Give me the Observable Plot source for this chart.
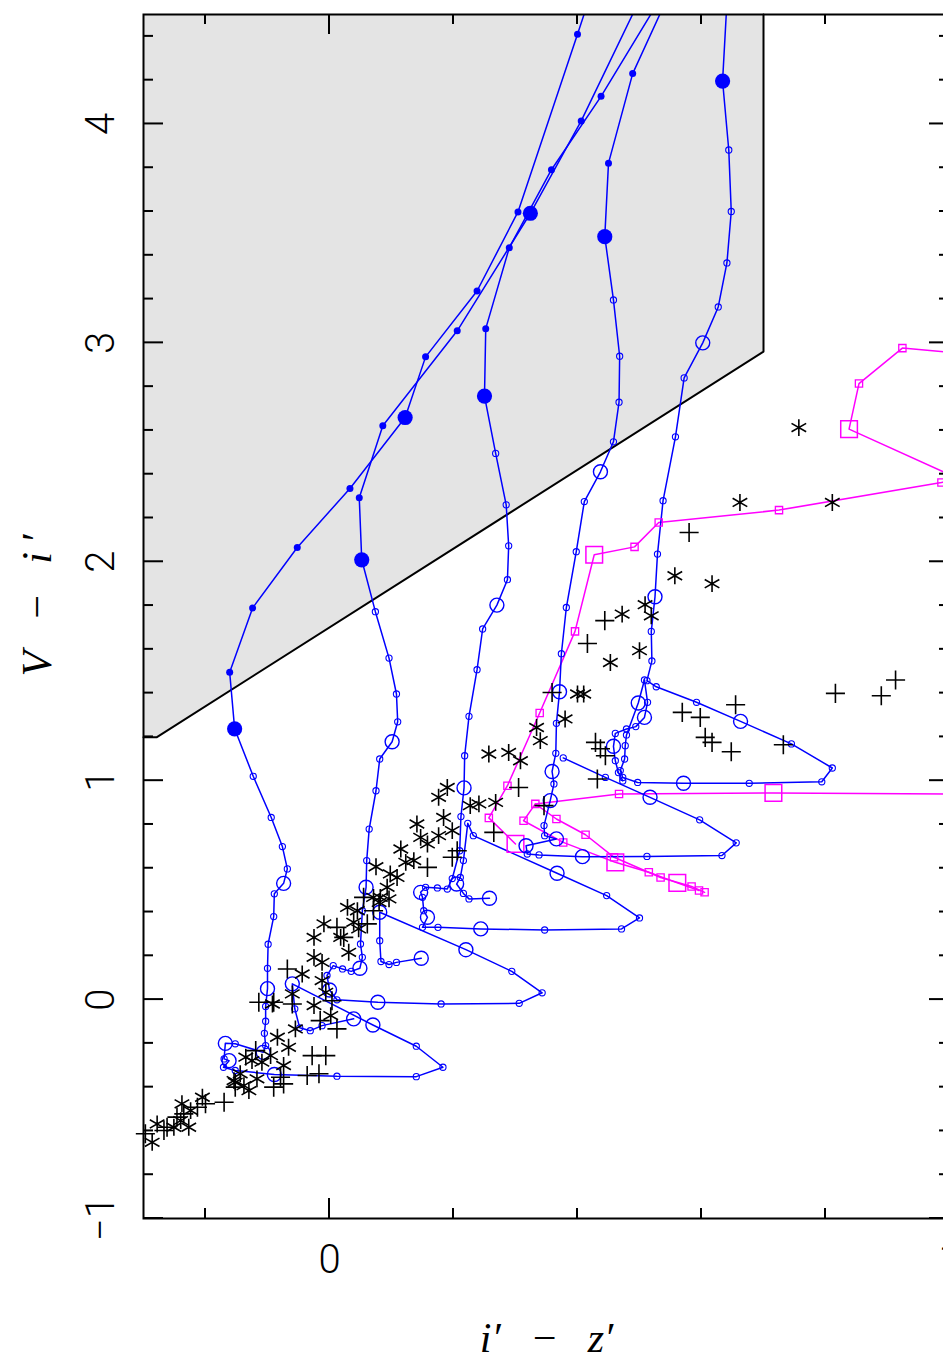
<!DOCTYPE html>
<html>
<head>
<meta charset="utf-8">
<script src="https://cdn.jsdelivr.net/npm/d3@7"></script>
<script src="https://cdn.jsdelivr.net/npm/@observablehq/plot@0.6"></script>
<style>
  html, body { margin: 0; padding: 0; background: #fff; overflow: hidden; width: 943px; height: 1362px; }
  #chart { position: absolute; left: 0; top: 0; width: 969px; height: 1362px; }
  #chart svg { max-width: none !important; width: 969px !important; height: 1362px !important; display: block; }
</style>
</head>
<body>
<div id="chart"></div>
<script>
// Colour–colour diagram: V − i′ against i′ − z′.
// Each track is a list of [i′−z′, V−i′, marker]; marker codes:
// "f" small filled dot, "F" large filled dot, "o" small open circle,
// "O" large open circle, "s" small square, "S" large square, "-" no marker.

const trackA = [
  [0.423,4.607,"-"],[0.400,4.410,"f"],[0.304,3.598,"f"],[0.238,3.237,"f"],[0.155,2.936,"f"],
  [0.122,2.659,"F"],[0.033,2.335,"f"],[-0.052,2.065,"f"],[-0.124,1.789,"f"],[-0.161,1.495,"f"],
  [-0.153,1.237,"F"],[-0.123,1.020,"o"],[-0.094,0.832,"o"],[-0.076,0.699,"o"],[-0.068,0.597,"o"],
  [-0.074,0.531,"O"],[-0.089,0.483,"o"],[-0.090,0.379,"o"],[-0.099,0.253,"o"],[-0.100,0.143,"o"],
  [-0.100,0.050,"O"],[-0.103,-0.031,"o"],[-0.103,-0.099,"o"],[-0.105,-0.154,"o"],[-0.103,-0.210,"o"],
  [-0.107,-0.241,"O"],[-0.152,-0.202,"o"],[-0.168,-0.200,"O"],[-0.170,-0.271,"o"],[-0.162,-0.279,"O"],
  [-0.171,-0.309,"o"],[-0.152,-0.324,"o"],[-0.089,-0.342,"O"],[0.012,-0.350,"o"],[0.140,-0.352,"o"],
  [0.183,-0.309,"o"],[0.140,-0.213,"o"],[0.070,-0.116,"O"],[-0.060,0.072,"O"],[-0.056,-0.042,"o"],
  [-0.048,-0.129,"o"],[-0.031,-0.142,"o"],[-0.012,-0.119,"o"],[0.039,-0.088,"O"]
];

const trackB = [
  [0.507,4.607,"-"],[0.406,4.014,"f"],[0.324,3.592,"F"],[0.206,3.055,"f"],[0.086,2.621,"f"],
  [0.048,2.292,"f"],[0.052,2.009,"F"],[0.074,1.772,"o"],[0.096,1.560,"o"],[0.108,1.396,"o"],
  [0.110,1.269,"o"],[0.101,1.178,"O"],[0.081,1.099,"o"],[0.075,0.954,"o"],[0.064,0.779,"o"],
  [0.060,0.635,"o"],[0.059,0.513,"O"],[0.053,0.406,"o"],[0.050,0.254,"o"],[0.053,0.193,"o"],
  [0.049,0.143,"O"],[0.035,0.129,"o"],[0.021,0.140,"o"],[0.006,0.155,"o"],[-0.004,0.110,"o"],
  [0.000,0.044,"O"],[0.012,-0.001,"o"],[0.078,-0.012,"O"],[0.180,-0.020,"o"],[0.306,-0.017,"o"],
  [0.343,0.031,"o"],[0.294,0.129,"o"],[0.220,0.228,"O"],[0.081,0.399,"O"],[0.081,0.269,"o"],
  [0.083,0.174,"o"],[0.096,0.160,"o"],[0.108,0.170,"o"],[0.148,0.189,"O"]
];

const trackC = [
  [0.541,4.607,"-"],[0.438,4.126,"f"],[0.358,3.791,"f"],[0.290,3.435,"f"],[0.252,3.065,"f"],
  [0.250,2.757,"F"],[0.268,2.495,"o"],[0.285,2.260,"o"],[0.289,2.073,"o"],[0.287,1.918,"o"],
  [0.270,1.802,"O"],[0.247,1.693,"o"],[0.238,1.507,"o"],[0.225,1.294,"o"],[0.218,1.114,"o"],
  [0.217,0.967,"O"],[0.212,0.836,"o"],[0.210,0.680,"o"],[0.198,0.553,"o"],[0.190,0.505,"o"],
  [0.174,0.510,"o"],[0.155,0.513,"o"],[0.147,0.490,"O"],[0.150,0.467,"o"],[0.152,0.406,"o"],
  [0.158,0.376,"O"],[0.150,0.330,"o"],[0.175,0.330,"o"],[0.244,0.323,"O"],[0.347,0.318,"o"],
  [0.471,0.323,"o"],[0.500,0.373,"o"],[0.447,0.475,"o"],[0.367,0.577,"O"],[0.232,0.749,"o"],
  [0.223,0.805,"o"],[0.216,0.635,"o"],[0.211,0.558,"o"],[0.205,0.528,"O"],[0.216,0.485,"o"],
  [0.225,0.460,"o"],[0.258,0.463,"O"]
];

const trackD = [
  [0.550,4.607,"-"],[0.489,4.230,"f"],[0.450,3.821,"f"],[0.444,3.485,"F"],[0.458,3.196,"o"],
  [0.468,2.939,"o"],[0.467,2.729,"o"],[0.458,2.548,"o"],[0.437,2.411,"O"],[0.411,2.275,"o"],
  [0.398,2.046,"o"],[0.382,1.791,"o"],[0.374,1.580,"o"],[0.371,1.406,"O"],[0.366,1.262,"o"],
  [0.365,1.125,"o"],[0.359,1.042,"O"],[0.362,0.985,"o"],[0.356,0.909,"O"],[0.346,0.795,"o"],
  [0.347,0.749,"o"],[0.366,0.734,"O"],[0.317,0.703,"O"],[0.319,0.665,"o"],[0.338,0.661,"o"],
  [0.408,0.653,"O"],[0.512,0.654,"o"],[0.633,0.658,"o"],[0.656,0.716,"o"],[0.597,0.821,"o"],
  [0.517,0.924,"O"],[0.445,1.015,"o"],[0.377,1.104,"o"]
];

const trackE = [
  [0.642,4.607,"-"],[0.634,4.196,"F"],[0.644,3.881,"o"],[0.648,3.600,"o"],[0.641,3.365,"o"],
  [0.627,3.164,"o"],[0.602,3.000,"O"],[0.572,2.840,"o"],[0.558,2.571,"o"],[0.538,2.279,"o"],
  [0.529,2.035,"o"],[0.525,1.840,"O"],[0.519,1.682,"o"],[0.520,1.547,"o"],[0.512,1.457,"o"],
  [0.527,1.429,"o"],[0.592,1.358,"o"],[0.663,1.271,"O"],[0.745,1.168,"o"],[0.811,1.058,"o"],
  [0.794,0.995,"o"],[0.677,0.988,"o"],[0.571,0.988,"O"],[0.497,0.992,"o"],[0.473,1.015,"o"],
  [0.469,1.046,"o"],[0.476,1.099,"o"],[0.477,1.160,"o"],[0.479,1.209,"o"],[0.498,1.355,"O"],
  [0.508,1.460,"o"]
];

const trackF = [
  [0.508,1.460,"-"],[0.513,1.358,"o"],[0.508,1.289,"O"],[0.494,1.247,"o"],[0.479,1.236,"o"],
  [0.461,1.216,"o"],[0.458,1.157,"O"],[0.461,1.091,"o"],[0.466,1.037,"o"],[0.473,0.999,"o"]
];

const magentaA = [
  [1.050,2.945,"-"],[0.924,2.976,"s"],[0.854,2.814,"s"],[0.838,2.606,"S"],[1.015,2.379,"-"],
  [0.987,2.362,"s"],[0.725,2.236,"s"],[0.531,2.179,"s"],[0.492,2.068,"s"],[0.427,2.032,"S"],
  [0.396,1.682,"s"],[0.339,1.309,"s"],[0.287,0.977,"s"],[0.257,0.830,"s"],[0.300,0.711,"S"]
];

const magentaB = [
  [1.050,0.938,"-"],[0.716,0.944,"S"],[0.467,0.939,"s"],[0.332,0.894,"s"],[0.313,0.817,"s"],
  [0.377,0.718,"s"],[0.461,0.627,"S"],[0.515,0.582,"s"],[0.561,0.533,"S"],[0.596,0.498,"s"]
];

const magentaC = [
  [0.332,0.894,"-"],[0.366,0.825,"s"],[0.413,0.753,"s"],[0.459,0.650,"s"],[0.534,0.558,"s"],
  [0.584,0.517,"s"],[0.605,0.490,"s"]
];

// Observed objects: asterisks and plus signs
const starPoints = [
  [0.757,2.613],[0.662,2.271],[0.811,2.271],[0.617,1.900],[0.557,1.936],[0.509,1.804],
  [0.472,1.761],[0.519,1.753],[0.500,1.594],[0.453,1.540],[0.400,1.396],[0.410,1.396],
  [0.380,1.282],[0.334,1.243],[0.340,1.183],[0.257,1.122],[0.289,1.129],[0.308,1.091],
  [0.190,0.969],[0.176,0.924],[0.241,0.894],[0.268,0.901],[0.227,0.886],[0.184,0.832],
  [0.141,0.802],[0.147,0.741],[0.176,0.749],[0.198,0.772],[0.115,0.688],[0.158,0.711],
  [0.098,0.574],[0.109,0.558],[0.136,0.635],[0.123,0.627],[0.082,0.467],[0.093,0.513],
  [0.075,0.607],[0.029,0.421],[0.045,0.406],[0.071,0.467],[0.080,0.444],[0.096,0.460],
  [-0.009,0.346],[0.039,0.353],[0.047,0.323],[-0.025,0.284],[0.018,0.284],[0.031,0.216],
  [-0.025,0.193],[-0.044,0.117],[-0.012,0.170],[-0.012,0.087],[-0.025,-0.027],[-0.006,0.033],
  [0.002,-0.073],[-0.055,-0.134],[-0.084,-0.172],[-0.066,-0.218],[-0.092,-0.020],[-0.060,0.026],
  [-0.095,-0.256],[-0.074,-0.301],[-0.125,-0.279],[-0.144,-0.339],[-0.152,-0.378],[-0.130,-0.416],
  [-0.138,-0.393],[-0.205,-0.446],[-0.238,-0.476],[-0.224,-0.507],[-0.278,-0.568],[-0.251,-0.583],
  [-0.227,-0.583],[-0.286,-0.652],[-0.240,-0.553],[-0.154,-0.370],[-0.117,-0.362],[-0.135,-0.263],
  [-0.109,-0.286]
];

const plusPoints = [
  [0.580,2.134],[0.444,1.731],[0.416,1.627],[0.359,1.403],[0.429,1.175],[0.445,1.114],
  [0.432,1.008],[0.437,1.146],[0.305,0.969],[0.569,1.312],[0.598,1.289],[0.606,1.198],
  [0.617,1.175],[0.648,1.132],[0.655,1.347],[0.732,1.164],[0.816,1.399],[0.890,1.388],
  [0.913,1.460],[0.346,0.886],[0.265,0.764],[0.206,0.680],[0.198,0.650],[0.158,0.604],
  [0.012,0.330],[0.055,0.467],[0.071,0.406],[0.023,0.284],[-0.068,0.140],[-0.114,-0.012],
  [-0.090,-0.012],[-0.060,-0.020],[0.004,-0.005],[-0.015,-0.096],[0.012,-0.134],[-0.028,-0.256],
  [-0.006,-0.256],[-0.036,-0.347],[-0.017,-0.339],[-0.079,-0.355],[-0.074,-0.385],[-0.119,-0.233],
  [-0.170,-0.469],[-0.200,-0.476],[-0.235,-0.522],[-0.246,-0.537],[-0.267,-0.598],[-0.297,-0.613],
  [0.061,0.346],[-0.152,-0.400],[-0.090,-0.400],[-0.262,-0.583],[-0.213,-0.492]
];

// Shaded region bounded by V−i′ = 1.7 + 1.8 (i′−z′)
const shadeEdge = [[-0.3,1.198],[-0.279,1.198],[0.7,2.96],[0.7,4.5]];

// Axes
const xDomain = [-0.3, 1.0];
const yDomain = [-1, 4.5];
const xTicks = d3.range(-1, 6).map(i => i / 5);
const yTicks = d3.range(-5, 23).map(i => i / 5);
const xLabels = [0, 1];
const yLabels = [-1, 0, 1, 2, 3, 4];
const xTitle = "i\u2032\u2002\u2009\u2212\u2002\u2009z\u2032";
const yTitle = "V\u2002\u2009\u2212\u2002\u2009i\u2009\u2032";

const blue = "#0000ff", magenta = "#ff00ff";

const toRows = tracks => tracks.flatMap((t, i) => t.map(([x, y, k]) => ({x, y, k, track: i})));
const blueRows = toRows([trackA, trackB, trackC, trackD, trackE, trackF]);
const magRows = toRows([magentaA, magentaB, magentaC]);
const ofKind = (rows, k) => rows.filter(d => d.k === k);

// Inward-pointing ticks on all four sides of the frame
function tickMarks(index, scales) {
  const {x, y} = scales;
  const g = d3.create("svg:g").attr("stroke", "black").attr("stroke-width", 2).attr("fill", "none");
  const xl = x(xDomain[0]), xr = x(xDomain[1]), yb = y(yDomain[0]), yt = y(yDomain[1]);
  const isMajor = t => Math.abs(t - Math.round(t)) < 1e-9;
  for (const t of xTicks) {
    const px = x(t), len = isMajor(t) ? 20 : 10;
    g.append("line").attr("x1", px).attr("x2", px).attr("y1", yb).attr("y2", yb - len);
    g.append("line").attr("x1", px).attr("x2", px).attr("y1", yt).attr("y2", yt + len);
  }
  for (const t of yTicks) {
    const py = y(t), len = isMajor(t) ? 20 : 10;
    g.append("line").attr("x1", xl).attr("x2", xl + len).attr("y1", py).attr("y2", py);
    g.append("line").attr("x1", xr).attr("x2", xr - len).attr("y1", py).attr("y2", py);
  }
  return g.node();
}

const numFont = "Roboto, 'Liberation Sans', sans-serif";
const titleFont = "'Liberation Serif', 'DejaVu Serif', serif";
const fmt = v => v < 0 ? "\u2212" + Math.abs(v) : String(v);

const chart = Plot.plot({
  width: 969,
  height: 1362,
  marginLeft: 143,
  marginRight: 20,
  marginTop: 14,
  marginBottom: 144,
  x: {domain: xDomain, axis: null},
  y: {domain: yDomain, axis: null},
  style: {background: "white", maxWidth: "none"},
  marks: [
    Plot.areaY(shadeEdge.slice(0, 3), {x: d => d[0], y1: d => d[1], y2: yDomain[1], fill: "#e4e4e4"}),
    Plot.line(shadeEdge, {x: d => d[0], y: d => d[1], stroke: "black", strokeWidth: 2}),
    Plot.line(magRows, {x: "x", y: "y", z: "track", stroke: magenta, strokeWidth: 1.5, clip: true}),
    Plot.line(blueRows, {x: "x", y: "y", z: "track", stroke: blue, strokeWidth: 1.5, clip: true}),
    Plot.dot(ofKind(magRows, "s"), {x: "x", y: "y", symbol: "square", r: 4.1, stroke: magenta, fill: "none", strokeWidth: 1.3}),
    Plot.dot(ofKind(magRows, "S"), {x: "x", y: "y", symbol: "square", r: 9.4, stroke: magenta, fill: "none", strokeWidth: 1.5}),
    Plot.dot(ofKind(blueRows, "o"), {x: "x", y: "y", r: 3.1, stroke: blue, fill: "none", strokeWidth: 1.1}),
    Plot.dot(ofKind(blueRows, "O"), {x: "x", y: "y", r: 7, stroke: blue, fill: "none", strokeWidth: 1.4}),
    Plot.dot(ofKind(blueRows, "f"), {x: "x", y: "y", r: 3.5, fill: blue, stroke: "none"}),
    Plot.dot(ofKind(blueRows, "F"), {x: "x", y: "y", r: 7.6, fill: blue, stroke: "none"}),
    Plot.dot(starPoints, {x: d => d[0], y: d => d[1], symbol: "asterisk", r: 8, stroke: "black", strokeWidth: 1.6}),
    Plot.dot(plusPoints, {x: d => d[0], y: d => d[1], symbol: "plus", r: 6.2, stroke: "black", strokeWidth: 1.6}),
    Plot.frame({stroke: "black", strokeWidth: 2}),
    tickMarks,
    Plot.text(yLabels, {y: d => d, text: fmt, frameAnchor: "left", dx: -30, rotate: -90,
      textAnchor: "middle", lineAnchor: "bottom", fontSize: 40, fontFamily: numFont, fontWeight: 300, fill: "black"}),
    Plot.text(xLabels, {x: d => d, text: fmt, frameAnchor: "bottom", dy: 54,
      textAnchor: "middle", lineAnchor: "bottom", fontSize: 40, fontFamily: numFont, fontWeight: 300, fill: "black"}),
    Plot.text([xTitle], {frameAnchor: "bottom", dy: 133, textAnchor: "middle", lineAnchor: "bottom",
      fontSize: 42, fontFamily: titleFont, fontStyle: "italic", fill: "black"}),
    Plot.text([yTitle], {frameAnchor: "left", dx: -93, dy: -11, rotate: -90, textAnchor: "middle", lineAnchor: "bottom",
      fontSize: 42, fontFamily: titleFont, fontStyle: "italic", fill: "black"})
  ]
});

document.getElementById("chart").appendChild(chart);
</script>
</body>
</html>
